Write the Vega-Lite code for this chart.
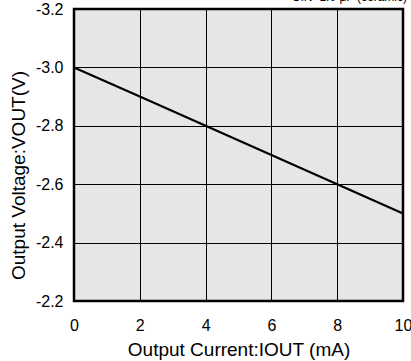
{
  "$schema": "https://vega.github.io/schema/vega-lite/v6.json",
  "width": 329,
  "height": 292,
  "autosize": {"type": "none"},
  "padding": {"left": 74, "top": 9, "right": 8, "bottom": 60},
  "config": {
    "font": "Liberation Sans",
    "view": {"fill": "#e6e6e6", "stroke": "#000000", "strokeWidth": 2.5},
    "axis": {"gridColor": "#000000", "gridOpacity": 1, "gridWidth": 1, "domain": false, "ticks": false, "labelColor": "#000", "titleColor": "#000", "labelFont": "Liberation Sans", "titleFont": "Liberation Sans", "titleFontWeight": "normal"}
  },
  "data": {"values": [
    {"iout": 0, "vout": -3.0},
    {"iout": 2, "vout": -2.9},
    {"iout": 4, "vout": -2.8},
    {"iout": 6, "vout": -2.7},
    {"iout": 8, "vout": -2.6},
    {"iout": 10, "vout": -2.5}
  ]},
  "layer": [
    {
      "mark": {"type": "line", "color": "#000000", "strokeWidth": 2.2},
      "encoding": {
        "x": {"field": "iout", "type": "quantitative", "scale": {"domain": [0, 10], "nice": false, "zero": false},
          "axis": {"values": [0, 2, 4, 6, 8, 10], "title": "Output Current:IOUT (mA)", "labelFontSize": 16, "titleFontSize": 19, "labelPadding": 16, "titlePadding": 7, "labelFlush": false}},
        "y": {"field": "vout", "type": "quantitative", "scale": {"domain": [-3.2, -2.2], "reverse": true, "nice": false, "zero": false},
          "axis": {"values": [-3.2, -3.0, -2.8, -2.6, -2.4, -2.2], "labelExpr": "replace(format(datum.value, '.1f'), '\u2212', '-')", "title": "Output Voltage:VOUT(V)", "labelFontSize": 16, "titleFontSize": 19, "labelPadding": 11, "titlePadding": 7, "titleY": 166, "labelFlush": false}}
      }
    },
    {
      "data": {"values": [{"iout": 10, "vout": -3.2, "label": "CIN=1.0 μF (ceramic)"}]},
      "mark": {"type": "text", "align": "right", "baseline": "bottom", "dy": -5, "dx": 4, "fontSize": 12, "color": "#000"},
      "encoding": {
        "x": {"field": "iout", "type": "quantitative"},
        "y": {"field": "vout", "type": "quantitative"},
        "text": {"field": "label"}
      }
    }
  ]
}
